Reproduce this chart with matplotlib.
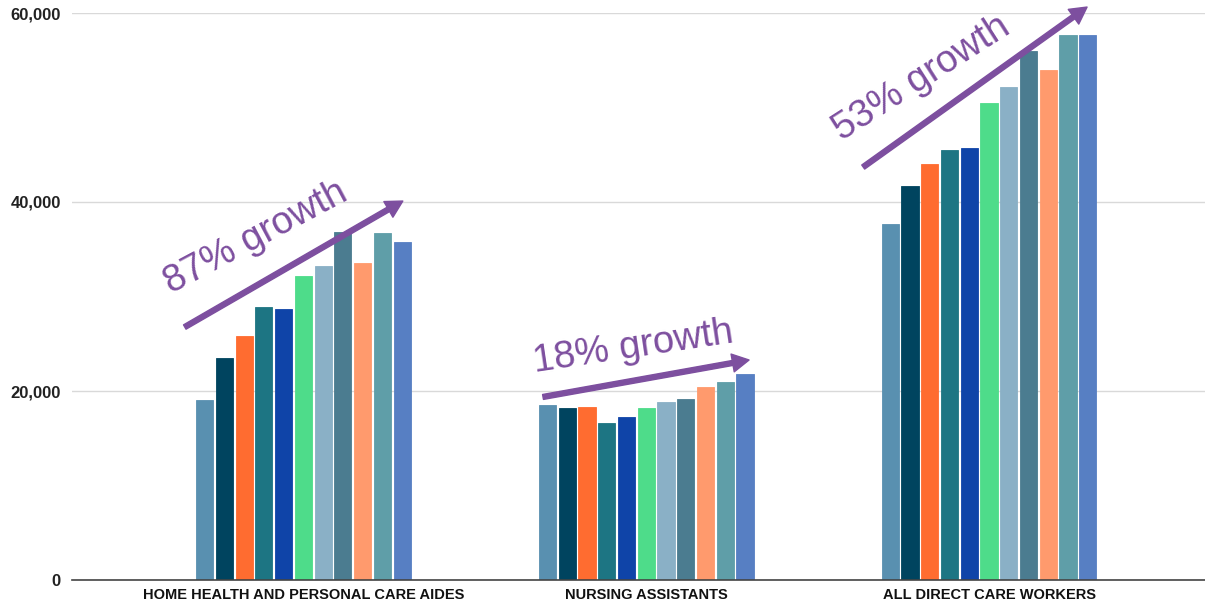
import matplotlib
matplotlib.use("Agg")
import matplotlib.pyplot as plt
import numpy as np

plt.rcParams['font.family'] = ['Liberation Sans', 'DejaVu Sans']

categories = ["HOME HEALTH AND PERSONAL CARE AIDES",
              "NURSING ASSISTANTS",
              "ALL DIRECT CARE WORKERS"]
years = [2009, 2010, 2011, 2012, 2013, 2014, 2015, 2016, 2017, 2018, 2019]

# one row per year, one value per category
values = [
    [19100, 18500, 37650],
    [23450, 18200, 41700],
    [25800, 18350, 44050],
    [28900, 16650, 45500],
    [28650, 17200, 45700],
    [32150, 18200, 50450],
    [33250, 18850, 52150],
    [36850, 19200, 55950],
    [33500, 20450, 54000],
    [36750, 20950, 57700],
    [35750, 21850, 57650],
]

colors = ["#5990B0", "#00445F", "#FF6C30", "#1D7583", "#0F44A8", "#4EDC8A",
          "#8AB0C6", "#4B7C90", "#FF9A6D", "#5F9EA8", "#577FC3"]

growth_labels = ["87% growth", "18% growth", "53% growth"]
# arrow tail / head and text anchor in data units (annotations only)
arrow_tails = [(-0.346, 26770), (0.699, 19370), (1.633, 43700)]
arrow_heads = [(0.290, 40100), (1.300, 23280), (2.286, 60630)]
text_anchors = [(-0.385, 30300), (0.676, 21950), (1.570, 46450)]
text_angles = [28, 8.5, 32.6]

purple = "#7D4F9F"

fig = plt.figure(figsize=(12.05, 6.05), dpi=100)
ax = fig.add_axes([72 / 1205, 25 / 605, 1133 / 1205, 567 / 605])

x = np.arange(len(categories))
n = len(years)
pitch = 0.0576
width = 0.05
for i in range(n):
    offs = (i - (n - 1) / 2) * pitch
    ax.bar(x + offs, values[i], width=width, color=colors[i],
           edgecolor=colors[i], linewidth=0.6, zorder=3)

ax.set_xlim(-0.675, 2.63)
ax.set_ylim(0, 60000)
ax.set_yticks([0, 20000, 40000, 60000])
ax.set_yticklabels([f"{v:,}" for v in [0, 20000, 40000, 60000]],
                   fontweight="bold", fontsize=12, color="#222222")
ax.set_xticks(x)
ax.set_xticklabels(categories, fontweight="bold", fontsize=10.5, color="#111111")
ax.tick_params(axis="both", length=0)
ax.tick_params(axis="y", pad=8)
ax.tick_params(axis="x", pad=6)

ax.grid(axis="y", color="#D9D9D9", linewidth=1, zorder=0)
for s in ["top", "right", "left"]:
    ax.spines[s].set_visible(False)
ax.spines["bottom"].set_color("#444444")
ax.spines["bottom"].set_linewidth(1.2)
ax.spines["bottom"].set_zorder(4)

for lab, tail, head, anchor, ang in zip(growth_labels, arrow_tails, arrow_heads,
                                        text_anchors, text_angles):
    ax.annotate("", xy=head, xytext=tail, annotation_clip=False,
                arrowprops=dict(width=3.6, headwidth=13, headlength=12,
                                color=purple, shrink=0),
                zorder=5)
    ax.text(anchor[0], anchor[1], lab, rotation=ang, rotation_mode="anchor",
            ha="left", va="baseline", fontsize=27.5, color=purple, zorder=6)

fig.savefig("out.png", dpi=100)
